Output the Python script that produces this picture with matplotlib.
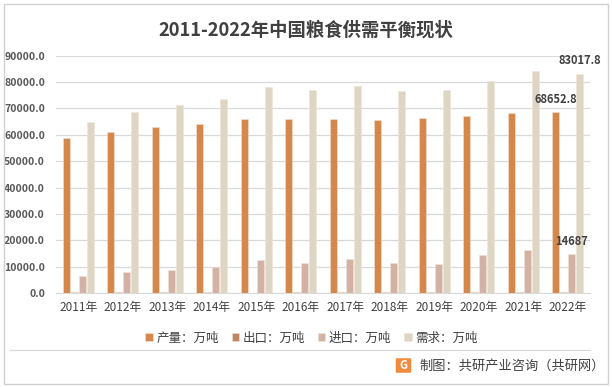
import matplotlib.pyplot as plt
import numpy as np
from matplotlib.patches import Rectangle, FancyBboxPatch

plt.rcParams['font.family'] = ['Noto Sans CJK SC', 'DejaVu Sans']

years = ['2011年', '2012年', '2013年', '2014年', '2015年', '2016年',
         '2017年', '2018年', '2019年', '2020年', '2021年', '2022年']
production = [58849, 61223, 63048, 63965, 66060, 66044, 66161, 65789, 66384, 66949, 68285, 68652.8]
exports = [288, 277, 243, 211, 164, 190, 280, 366, 434, 354, 331, 322]
imports = [6447, 8025, 8645, 10042, 12477, 11468, 13062, 11555, 11144, 14262, 16454, 14687]
demand = [64900, 68600, 71300, 73600, 78100, 77000, 78500, 76600, 77000, 80400, 84200, 83017.8]
series_names = ['产量：万吨', '出口：万吨', '进口：万吨', '需求：万吨']
colors = ['#D5884B', '#BF8562', '#D3B2A6', '#DED6C5']

fig = plt.figure(figsize=(6.12, 3.87), dpi=100)
ax = fig.add_axes([56 / 612, 1 - 293 / 387, 534 / 612, 237.3 / 387])

x = np.arange(len(years))
w = 0.15
step = 0.18
data = [production, exports, imports, demand]
for i, (vals, c, name) in enumerate(zip(data, colors, series_names)):
    ax.bar(x + (i - 1.5) * step, vals, width=w, color=c, label=name,
           edgecolor='#F3E2D3', linewidth=0.4, zorder=3)

ax.set_xlim(-0.5, len(years) - 0.5)
ax.set_ylim(0, 90000)
ax.set_yticks(np.arange(0, 90001, 10000))
ax.set_yticklabels([f'{v:.1f}' for v in np.arange(0, 90001, 10000)],
                   fontsize=7.6, fontweight='bold', color='#595959')
ax.set_xticks(x)
ax.set_xticklabels(years, fontsize=8.5, color='#404040')
ax.tick_params(length=0, pad=6)
ax.tick_params(axis='y', pad=8)
ax.grid(axis='y', color='#D9D9D9', linewidth=0.9, zorder=0)
for s in ['top', 'right', 'left']:
    ax.spines[s].set_visible(False)
ax.spines['bottom'].set_color('#D9D9D9')

# data labels for 2022
last = len(years) - 1
lab = dict(ha='center', va='center', fontsize=8, fontweight='bold', color='#404040')
ax.text(last - 1.5 * step, production[last] + 4900, f'{production[last]:.1f}', **lab)
ax.text(last + 1.5 * step, demand[last] + 5000, f'{demand[last]:.1f}', **lab)
ax.text(last + 0.5 * step, imports[last] + 5000, f'{imports[last]}', **lab)

fig.text(0.5, 1 - 30 / 387, '2011-2022年中国粮食供需平衡现状', ha='center', va='center',
         fontsize=13.2, fontweight='bold', color='#404040')

leg = fig.legend(loc='center', bbox_to_anchor=(0.509, 1 - 338 / 387), ncol=4,
                 frameon=False, fontsize=9, handlelength=0.6, handleheight=0.6,
                 handletextpad=0.3, columnspacing=1.0, labelcolor='#404040')

# border and separator
fig.patches.append(Rectangle((4 / 612, 3 / 387), 604 / 612, 380 / 387, transform=fig.transFigure,
                             fill=False, edgecolor='#D0D0D0', linewidth=1))
fig.add_artist(plt.Line2D([10 / 612, 590 / 612], [1 - 350 / 387, 1 - 350 / 387],
                          color='#D9D9D9', linewidth=0.8))

# footer logo and text
fig.patches.append(FancyBboxPatch((397 / 612, 1 - 372 / 387), 13 / 612, 13 / 387,
                                  boxstyle='round,pad=0.002', transform=fig.transFigure,
                                  facecolor='#F08A3C', edgecolor='none'))
fig.text(403.5 / 612, 1 - 365.5 / 387, 'G', ha='center', va='center', fontsize=8,
         fontweight='bold', color='white')
fig.text(419 / 612, 1 - 366 / 387, '制图：共研产业咨询（共研网）', ha='left', va='center',
         fontsize=9.5, color='#404040')

fig.savefig('out.png', dpi=100)
